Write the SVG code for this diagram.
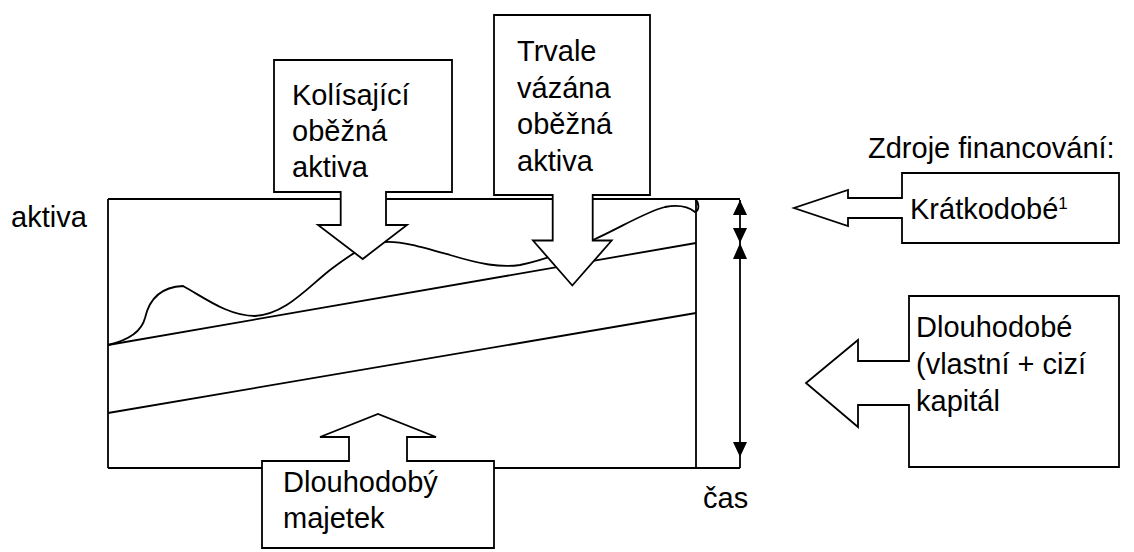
<svg xmlns="http://www.w3.org/2000/svg" width="1134" height="552" viewBox="0 0 1134 552">
  <style>
    .ln { fill: none; stroke: #000; stroke-width: 1.8; }
    .call { fill: #fff; stroke: #000; stroke-width: 1.8; stroke-linejoin: miter; }
    .txt { font-family: "Liberation Sans", Arial, sans-serif; font-size: 29px; fill: #000; }
    .head { fill: #000; stroke: none; }
  </style>

  <rect width="1134" height="552" fill="#fff"/>

  <!-- asset chart: frame, trend lines and fluctuating curve -->
  <g id="chart">
    <path class="ln" d="M108,199 H740 M108,468 H740 M108,199 V468 M696,199 V468"/>
    <path class="ln" d="M108,345 L696,243"/>
    <path class="ln" d="M108,413 L696,313"/>
    <path class="ln" d="M108,345 C125,341 141,334 145,318 C149,300 160,287 183,286 C205,298 228,316 255,316 C285,314 305,290 330,270 C350,255 365,244 385,242 C402,241 422,247 450,255 C480,264 500,268 520,265 C545,260 570,250 593,240 C620,228 645,212 665,207 C680,204 690,208 695,212 C700,210 699,202 695,199"/>
    <text class="txt" x="11" y="227">aktiva</text>
    <text class="txt" x="703" y="508">čas</text>
  </g>

  <!-- dimension arrows at the right side of the chart -->
  <g id="connectors">
    <path class="ln" d="M740,200 V468"/>
    <polygon class="head" points="740,200 733,215 747,215"/>
    <polygon class="head" points="740,243 733,228 747,228"/>
    <polygon class="head" points="740,243 733,259 747,259"/>
    <polygon class="head" points="740,457 733,442 747,442"/>
  </g>

  <g id="kolisajici">
    <polygon class="call" points="274,60 452,60 452,192 386,192 386,225 407,225 362.7,259 318,225 340.7,225 340.7,192 274,192"/>
    <text class="txt" x="292" y="105">Kolísající</text>
    <text class="txt" x="292" y="141">oběžná</text>
    <text class="txt" x="292" y="177">aktiva</text>
  </g>

  <g id="trvale">
    <polygon class="call" points="494,15 650,15 650,195 592.7,195 592.7,240.5 611.7,240.5 572.3,285.5 533,240.5 552.7,240.5 552.7,195 494,195"/>
    <text class="txt" x="517" y="61">Trvale</text>
    <text class="txt" x="517" y="97.5">vázána</text>
    <text class="txt" x="517" y="134">oběžná</text>
    <text class="txt" x="517" y="170.5">aktiva</text>
  </g>

  <g id="dlouhodoby-majetek">
    <polygon class="call" points="262,548 262,461 349,461 349,437 320,437 378,414 436,437 407,437 407,461 494,461 494,548"/>
    <text class="txt" x="283" y="492">Dlouhodobý</text>
    <text class="txt" x="283" y="528">majetek</text>
  </g>

  <g id="zdroje">
    <text class="txt" x="868" y="158">Zdroje financování:</text>
  </g>

  <g id="kratkodobe">
    <polygon class="call" points="902,173 1119,173 1119,243 902,243 902,218 848,218 848,226 794,208 848,190 848,198 902,198"/>
    <text class="txt" x="910" y="219">Krátkodobé<tspan font-size="17" dy="-10">1</tspan></text>
  </g>

  <g id="dlouhodobe">
    <polygon class="call" points="909,296 1119,296 1119,467 909,467 909,405 858,405 858,427 806,383 858,340 858,361 909,361"/>
    <text class="txt" x="916" y="337">Dlouhodobé</text>
    <text class="txt" x="916" y="374">(vlastní + cizí</text>
    <text class="txt" x="916" y="411">kapitál</text>
  </g>
</svg>
